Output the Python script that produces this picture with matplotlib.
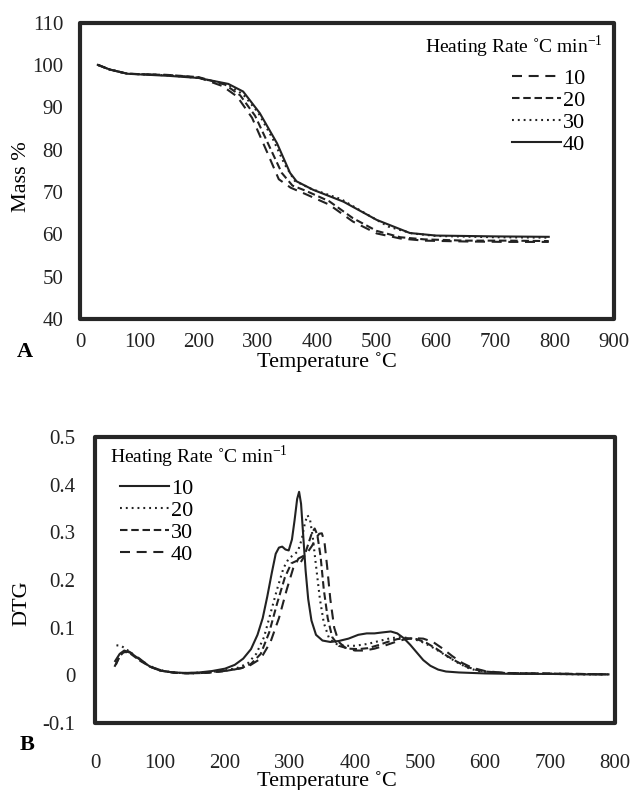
import matplotlib
matplotlib.use("Agg")
import matplotlib.pyplot as plt
from matplotlib.patches import Rectangle

plt.rcParams["font.family"] = ["Liberation Serif", "DejaVu Serif"]
plt.rcParams["font.size"] = 16

INK = "#222222"

# ---- Panel A: TGA mass loss (%) ----
rates = ["10", "20", "30", "40"]

tga_t10 = [30, 50, 80, 150, 200, 240, 265, 290, 315, 335, 355, 380, 420, 460, 500, 540, 580, 650, 720, 790]
tga_m10 = [100, 98.9, 97.9, 97.6, 97.0, 95.0, 92.5, 87.5, 79.5, 73.0, 71.0, 69.5, 67.0, 63.0, 60.2, 59.0, 58.5, 58.3, 58.2, 58.2]

tga_t20 = [30, 50, 80, 150, 200, 245, 270, 295, 320, 340, 358, 380, 420, 460, 500, 540, 580, 650, 720, 790]
tga_m20 = [100, 98.9, 97.9, 97.6, 97.1, 95.3, 92.8, 88.0, 80.5, 74.5, 71.5, 70.3, 67.8, 63.8, 60.8, 59.3, 58.8, 58.5, 58.5, 58.4]

tga_t30 = [30, 50, 80, 150, 200, 250, 275, 300, 325, 345, 362, 390, 440, 480, 520, 560, 600, 700, 790]
tga_m30 = [100, 98.9, 97.9, 97.5, 96.9, 95.3, 93.0, 88.8, 82.5, 76.5, 72.6, 70.7, 68.3, 65.0, 61.8, 60.2, 59.6, 59.3, 59.2]

tga_t40 = [30, 50, 80, 150, 200, 250, 275, 303, 332, 354, 365, 393, 444, 500, 556, 600, 700, 790]
tga_m40 = [100, 98.9, 97.9, 97.4, 96.9, 95.5, 93.7, 88.6, 81.5, 74.5, 72.5, 70.5, 67.7, 63.4, 60.3, 59.7, 59.5, 59.4]

# ---- Panel B: DTG curves ----
dtg_t10 = [31, 38, 45, 55, 70, 85, 100, 120, 140, 160, 180, 200, 215, 228, 240, 250, 258, 265, 272, 278, 283,
           288, 293, 298, 303, 307, 311, 314, 317, 320, 324, 328, 333, 340, 350, 362, 375, 390, 405, 418, 430,
           442, 455, 465, 475, 485, 495, 505, 516, 528, 540, 560, 600, 650, 700, 750, 790]
dtg_d10 = [0.030, 0.045, 0.052, 0.047, 0.032, 0.018, 0.010, 0.006, 0.005, 0.006, 0.009, 0.014, 0.022, 0.035,
           0.055, 0.085, 0.12, 0.165, 0.215, 0.255, 0.268, 0.27, 0.264, 0.262, 0.285, 0.325, 0.37, 0.385, 0.36,
           0.30, 0.22, 0.16, 0.115, 0.085, 0.073, 0.070, 0.072, 0.077, 0.085, 0.088, 0.088, 0.090, 0.092, 0.088,
           0.078, 0.064, 0.048, 0.032, 0.020, 0.012, 0.008, 0.006, 0.004, 0.003, 0.003, 0.002, 0.002]

dtg_t20 = [33, 40, 48, 60, 75, 90, 110, 130, 150, 175, 200, 220, 235, 248, 260, 270, 280, 290, 298, 305, 312,
           318, 323, 327, 331, 335, 340, 346, 352, 360, 370, 385, 400, 420, 440, 455, 470, 485, 500, 515, 530,
           545, 560, 575, 590, 610, 650, 700, 750, 790]
dtg_d20 = [0.063, 0.062, 0.055, 0.042, 0.026, 0.015, 0.008, 0.005, 0.005, 0.007, 0.010, 0.016, 0.025, 0.045,
           0.08, 0.13, 0.18, 0.225, 0.245, 0.252, 0.26, 0.285, 0.32, 0.336, 0.325, 0.29, 0.23, 0.16, 0.11, 0.078,
           0.066, 0.062, 0.062, 0.066, 0.073, 0.078, 0.080, 0.078, 0.072, 0.062, 0.050, 0.037, 0.025, 0.015,
           0.009, 0.006, 0.004, 0.003, 0.002, 0.002]

dtg_t30 = [32, 38, 45, 55, 70, 85, 100, 120, 140, 170, 200, 225, 240, 255, 268, 280, 292, 302, 310, 316, 322,
           328, 334, 338, 342, 347, 352, 358, 365, 375, 390, 405, 420, 435, 450, 465, 480, 495, 510, 525, 540,
           555, 570, 585, 600, 630, 680, 740, 790]
dtg_d30 = [0.022, 0.040, 0.050, 0.045, 0.030, 0.018, 0.010, 0.006, 0.004, 0.005, 0.009, 0.015, 0.024, 0.045,
           0.09, 0.15, 0.205, 0.235, 0.24, 0.236, 0.25, 0.275, 0.30, 0.308, 0.295, 0.25, 0.18, 0.12, 0.08, 0.062,
           0.056, 0.055, 0.057, 0.063, 0.070, 0.076, 0.078, 0.076, 0.068, 0.056, 0.042, 0.030, 0.019, 0.012,
           0.008, 0.005, 0.004, 0.003, 0.002]

dtg_t40 = [30, 36, 43, 52, 62, 75, 90, 105, 125, 150, 180, 210, 235, 255, 270, 283, 295, 305, 313, 320, 327,
           334, 340, 345, 349, 353, 357, 362, 368, 375, 385, 400, 415, 430, 445, 460, 475, 490, 505, 520, 535,
           550, 565, 580, 600, 630, 680, 740, 790]
dtg_d40 = [0.018, 0.035, 0.048, 0.050, 0.042, 0.028, 0.016, 0.009, 0.005, 0.004, 0.006, 0.011, 0.018, 0.035,
           0.07, 0.12, 0.18, 0.225, 0.245, 0.25, 0.258, 0.272, 0.288, 0.297, 0.298, 0.28, 0.23, 0.16, 0.10, 0.07,
           0.058, 0.052, 0.052, 0.056, 0.062, 0.069, 0.075, 0.078, 0.077, 0.070, 0.056, 0.040, 0.026, 0.016,
           0.009, 0.005, 0.004, 0.003, 0.002]

# line styles (excel-like)
LONG = (0, (4.8, 3.2))
SHORT = (0, (3.6, 1.8))
DOT = (0, (0.9, 1.9))
SOLID = "-"

legend_title = "Heating Rate ˚C min$^{\\mathregular{-1}}$"


def frame(ax):
    for s in ax.spines.values():
        s.set_visible(False)
    ax.add_patch(Rectangle((0, 0), 1, 1, transform=ax.transAxes, fill=False,
                           ec="#262626", lw=3.0, joinstyle="round", clip_on=False, zorder=10))
    ax.tick_params(length=0, labelsize=15, colors="#222222")


fig = plt.figure(figsize=(6.32, 7.90), dpi=100)

# ---------- A ----------
axA = fig.add_axes([80 / 632, 1 - 319 / 790, 534 / 632, 296.5 / 790])
styles_a = [LONG, SHORT, DOT, SOLID]
series_a = [(tga_t10, tga_m10), (tga_t20, tga_m20), (tga_t30, tga_m30), (tga_t40, tga_m40)]
for (t, m), ls, lab in zip(series_a, styles_a, rates):
    axA.plot(t, m, ls=ls, lw=1.5, color=INK, label=lab)
axA.set_xlim(0, 900)
axA.set_ylim(40, 110)
axA.set_xticks(range(0, 901, 100))
axA.set_yticks(range(40, 111, 10))
frame(axA)
axA.tick_params(axis="x", pad=10)
axA.tick_params(axis="y", pad=12)
axA.set_xlabel("Temperature ˚C", fontsize=16)
axA.xaxis.set_label_coords(0.462, -0.111)
axA.set_ylabel("Mass %", fontsize=16)
axA.yaxis.set_label_coords(-0.092, 0.48)
axA.text(0.979, 0.917, legend_title, transform=axA.transAxes, ha="right", va="center", fontsize=14)
axA.legend(loc="upper left", bbox_to_anchor=(0.809, 0.845), frameon=False, fontsize=16,
           handlelength=2.2, handletextpad=0.1, labelspacing=0.06, borderpad=0, borderaxespad=0)
fig.text(17 / 632, 1 - 352 / 790, "A", fontsize=16, fontweight="bold", ha="left", va="center")

# ---------- B ----------
axB = fig.add_axes([95 / 632, 1 - 723 / 790, 520 / 632, 286 / 790])
styles_b = [SOLID, DOT, SHORT, LONG]
series_b = [(dtg_t10, dtg_d10), (dtg_t20, dtg_d20), (dtg_t30, dtg_d30), (dtg_t40, dtg_d40)]
for (t, d), ls, lab in zip(series_b, styles_b, rates):
    axB.plot(t, d, ls=ls, lw=1.5, color=INK, label=lab)
axB.set_xlim(0, 800)
axB.set_ylim(-0.1, 0.5)
axB.set_xticks(range(0, 801, 100))
axB.set_yticks([-0.1, 0, 0.1, 0.2, 0.3, 0.4, 0.5])
axB.set_yticklabels(["-0.1", "0", "0.1", "0.2", "0.3", "0.4", "0.5"])
frame(axB)
axB.tick_params(axis="x", pad=22)
axB.tick_params(axis="y", pad=14)
axB.set_xlabel("Temperature ˚C", fontsize=16)
axB.xaxis.set_label_coords(0.446, -0.168)
axB.set_ylabel("DTG", fontsize=16)
axB.yaxis.set_label_coords(-0.123, 0.42)
axB.text(0.029, 0.930, legend_title, transform=axB.transAxes, ha="left", va="center", fontsize=14)
axB.legend(loc="upper left", bbox_to_anchor=(0.048, 0.855), frameon=False, fontsize=16,
           handlelength=2.2, handletextpad=0.1, labelspacing=0.06, borderpad=0, borderaxespad=0)
fig.text(20 / 632, 1 - 745 / 790, "B", fontsize=16, fontweight="bold", ha="left", va="center")

fig.savefig("out.png", dpi=100)
